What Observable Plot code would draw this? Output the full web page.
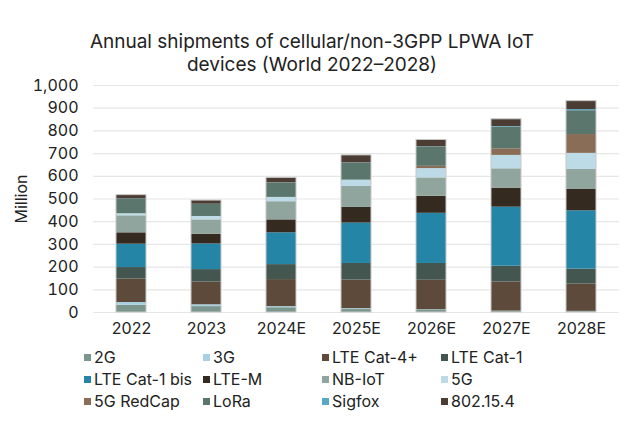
<!DOCTYPE html>
<html><head><meta charset="utf-8">
<script src="https://cdn.jsdelivr.net/npm/d3@7"></script>
<script src="https://cdn.jsdelivr.net/npm/@observablehq/plot@0.6"></script>
<style>
body{margin:0;background:#fff;font-family:Inter,"Liberation Sans",Arial,sans-serif;color:#222;}
#wrap{width:640px;}
#title{font-size:19px;line-height:23px;text-align:center;padding:30px 16px 0 0;height:46px;}
#chart svg{display:block;}
#legend{display:grid;grid-template-columns:119px 119px 119px 119px;margin-left:84px;padding-top:4px;font-size:16px;}
#legend div{height:22px;line-height:22px;white-space:nowrap;display:flex;align-items:center;}
#legend span.sw{display:inline-block;width:7px;height:7px;margin-right:3px;}
</style></head>
<body><div id="wrap">
<div id="title">Annual shipments of cellular/non-3GPP LPWA IoT<br>devices (World 2022–2028)</div>
<div id="chart"></div>
<div id="legend"></div>
</div>
<script>
const years = ["2022","2023","2024E","2025E","2026E","2027E","2028E"];
const series = ["2G","3G","LTE Cat-4+","LTE Cat-1","LTE Cat-1 bis","LTE-M","NB-IoT","5G","5G RedCap","LoRa","Sigfox","802.15.4"];
const colors = ["#7b968d","#a9d0e0","#5d4a3b","#445650","#2585a6","#352a20","#8fa59d","#bcdbe7","#8a6d57","#5a766d","#5aa8c8","#4b3d33"];
const v2G      = [32, 26, 21, 13, 12, 5, 4];
const v3G      = [12, 8, 5, 4, 1, 1, 1];
const vCat4    = [103, 100, 119, 126, 129, 128, 120];
const vCat1    = [51, 55, 66, 73, 74, 70, 66];
const vCat1bis = [103, 113, 140, 178, 221, 260, 257];
const vLTEM    = [50, 43, 57, 69, 75, 84, 94];
const vNBIoT   = [75, 63, 80, 92, 81, 85, 88];
const v5G      = [9, 15, 19, 28, 41, 59, 71];
const vRedCap  = [0, 0, 0, 0, 10, 29, 83];
const vLoRa    = [63, 53, 63, 75, 85, 95, 105];
const vSigfox  = [2, 1, 1, 1, 1, 3, 5];
const v802     = [17, 16, 22, 33, 30, 32, 37];
const yTicks = [0,100,200,300,400,500,600,700,800,900,1000];

const valuesBySeries = [v2G,v3G,vCat4,vCat1,vCat1bis,vLTEM,vNBIoT,v5G,vRedCap,vLoRa,vSigfox,v802];
const data = [];
series.forEach((s,i)=>years.forEach((y,j)=>data.push({year:y, series:s, value:valuesBySeries[i][j]})));
const totals = years.map((y,j)=>({year:y, value:d3.sum(valuesBySeries, a=>a[j])}));

const plot = Plot.plot({
  width:640, height:266,
  marginLeft:93, marginRight:21, marginTop:9, marginBottom:30,
  style:{fontFamily:'Inter,"Liberation Sans",Arial,sans-serif', fontSize:"16px", color:"#222", background:"#fff"},
  x:{domain:years, paddingInner:0.6, paddingOuter:0.3, label:null, tickSize:0, tickPadding:10},
  y:{domain:[0,1000], ticks:yTicks, tickFormat:d3.format(","), label:"Million", labelArrow:"none", labelAnchor:"center", labelOffset:78, tickSize:0, tickPadding:15},
  color:{domain:series, range:colors},
  marks:[
    Plot.gridY(yTicks, {stroke:"#e6e6e6", strokeOpacity:1, strokeWidth:1.2}),
    Plot.barY(data, {x:"year", y:"value", fill:"series", order:series}),
    Plot.barY(totals, {x:"year", y:"value", fill:"none", stroke:"#c8c8c8", strokeWidth:1})
  ]
});
document.getElementById("chart").appendChild(plot);

const leg = document.getElementById("legend");
series.forEach((s,i)=>{
  const d = document.createElement("div");
  const sw = document.createElement("span"); sw.className="sw"; sw.style.background = colors[i];
  d.appendChild(sw); d.appendChild(document.createTextNode(s));
  leg.appendChild(d);
});
</script>
</body></html>
